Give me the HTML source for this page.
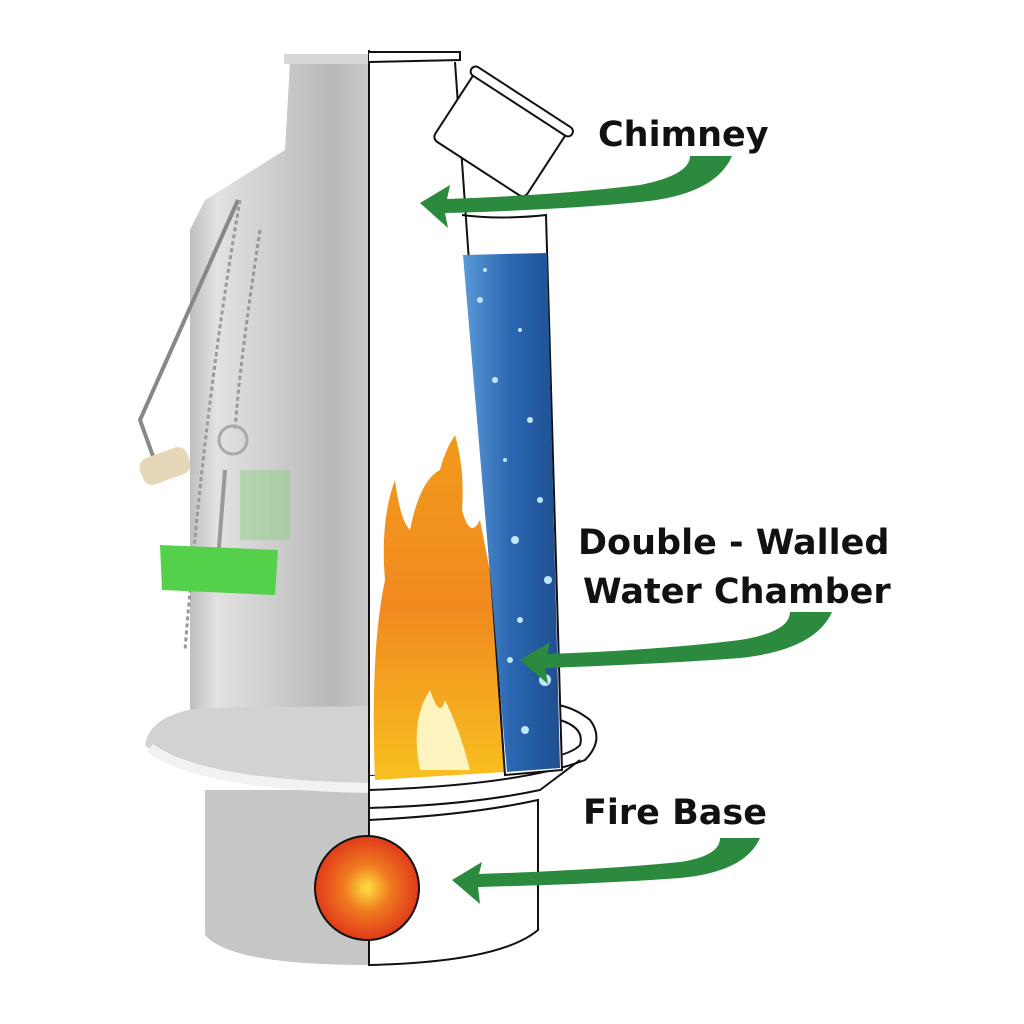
<!DOCTYPE html>
<html><head><meta charset="utf-8"><style>
html,body{margin:0;padding:0;background:#fff;}
svg{display:block}
text{font-family:"DejaVu Sans","Liberation Sans",sans-serif;font-weight:bold;fill:#111;}
</style></head><body>
<svg width="1024" height="1024" viewBox="0 0 1024 1024" xmlns="http://www.w3.org/2000/svg">
<defs>
<linearGradient id="metal" x1="0" x2="1" y1="0" y2="0">
<stop offset="0" stop-color="#bfbfbf"/><stop offset="0.15" stop-color="#e2e2e2"/><stop offset="0.45" stop-color="#cfcfcf"/><stop offset="0.8" stop-color="#b8b8b8"/><stop offset="1" stop-color="#c8c8c8"/>
</linearGradient>
<linearGradient id="water" x1="0" x2="1"><stop offset="0" stop-color="#5a9ad8"/><stop offset="0.5" stop-color="#2a66b0"/><stop offset="1" stop-color="#1f4f8f"/></linearGradient>
<linearGradient id="fire" x1="0" y1="0" x2="0" y2="1"><stop offset="0" stop-color="#f39a1a"/><stop offset="0.5" stop-color="#f08a20"/><stop offset="1" stop-color="#f8c020"/></linearGradient>
<radialGradient id="ball" cx="0.5" cy="0.5" r="0.5"><stop offset="0" stop-color="#ffe040"/><stop offset="0.45" stop-color="#f07a20"/><stop offset="1" stop-color="#e03a1a"/></radialGradient>
</defs>
<!-- kettle metal body -->
<path d="M290,62 L368,62 L368,760 L190,760 L190,230 L205,200 L285,150 Z" fill="url(#metal)"/>
<rect x="284" y="54" width="86" height="10" fill="#d8d8d8"/>
<!-- base lower cylinder -->
<path d="M205,790 L205,935 Q230,965 369,965 L369,790 Z" fill="#c6c6c6"/>
<path d="M369,820 L369,965 Q500,962 538,930 L538,800 Q470,815 369,820 Z" fill="#fff" stroke="#111" stroke-width="2"/>
<!-- tray -->
<path d="M145,745 Q150,715 200,708 L369,706 L369,790 Q190,790 145,745 Z" fill="#d2d2d2"/>
<path d="M150,748 Q200,785 369,788" fill="none" stroke="#f2f2f2" stroke-width="10"/>
<path d="M369,790 Q520,785 585,760 Q605,740 590,720 Q575,708 558,705 L560,720 Q585,728 580,745 Q560,768 369,775 Z" fill="#fff" stroke="#111" stroke-width="2"/>
<path d="M369,808 Q470,805 540,790 L580,760" fill="none" stroke="#111" stroke-width="2"/>
<!-- white cutaway -->
<path d="M369,50 L460,50 L460,58 L455,62 L505,772 L369,775 Z" fill="#fff"/>
<line x1="369" y1="50" x2="369" y2="965" stroke="#111" stroke-width="2"/>
<path d="M369,52 L460,52 L460,60 L369,62" fill="#fff" stroke="#111" stroke-width="2"/>
<!-- flames -->
<path d="M375,780 Q370,650 385,580 Q380,520 395,480 Q400,520 410,530 Q420,480 440,470 Q445,450 455,435 Q465,470 462,510 Q470,540 480,520 Q488,560 495,600 L505,772 Z" fill="url(#fire)"/>
<path d="M420,770 Q410,720 430,690 Q440,720 445,700 Q460,730 470,770 Z" fill="#fff4c0"/>
<!-- tube -->
<path d="M455,62 L505,775 L562,770 L546,215 Q500,220 462,215" fill="#fff" stroke="#111" stroke-width="2"/>
<path d="M463,255 L547,253 L560,768 L507,772 Z" fill="url(#water)"/>
<g fill="#bfe6ff">
<circle cx="480" cy="300" r="3"/><circle cx="520" cy="330" r="2"/><circle cx="495" cy="380" r="3"/><circle cx="530" cy="420" r="3"/><circle cx="505" cy="460" r="2"/><circle cx="540" cy="500" r="3"/><circle cx="515" cy="540" r="4"/><circle cx="548" cy="580" r="4"/><circle cx="520" cy="620" r="3"/><circle cx="545" cy="680" r="6"/><circle cx="525" cy="730" r="4"/><circle cx="510" cy="660" r="3"/><circle cx="485" cy="270" r="2"/>
</g>
<!-- cup -->
<g transform="rotate(33 500 135)">
<rect x="445" y="95" width="110" height="80" rx="6" fill="#fff" stroke="#111" stroke-width="2"/>
<rect x="440" y="90" width="120" height="10" rx="5" fill="#fff" stroke="#111" stroke-width="2"/>
</g>
<!-- handle and chain -->
<path d="M238,200 L140,420 L158,470" fill="none" stroke="#888" stroke-width="4"/>
<rect x="140" y="452" width="50" height="28" rx="10" fill="#e5d7b8" transform="rotate(-20 165 466)"/>
<path d="M240,200 Q205,400 185,650" fill="none" stroke="#999" stroke-width="3" stroke-dasharray="4 3"/>
<path d="M260,230 Q240,360 235,430" fill="none" stroke="#999" stroke-width="3" stroke-dasharray="4 3"/>
<circle cx="233" cy="440" r="14" fill="none" stroke="#aaa" stroke-width="3"/>
<path d="M225,470 L218,560" stroke="#999" stroke-width="4"/>
<path d="M160,545 L278,550 L275,595 L162,590 Z" fill="#55d04a"/>
<rect x="240" y="470" width="50" height="70" fill="#7ecf70" opacity="0.4"/>
<!-- arrows -->
<path d="M690,156 L732,156 Q715,195 640,202 Q560,210 445,213 L448,228 L420,203 L450,185 L447,199 Q560,195 640,185 Q690,175 690,156 Z" fill="#2b8a3e"/>
<path d="M790,612 L832,612 Q815,650 740,658 Q660,664 545,668 L548,684 L520,660 L550,642 L547,654 Q660,650 740,640 Q790,632 790,612 Z" fill="#2b8a3e"/>
<path d="M720,838 L760,838 Q745,872 680,878 Q600,884 478,887 L480,904 L452,880 L482,862 L479,874 Q600,870 680,862 Q720,856 720,838 Z" fill="#2b8a3e"/>
<!-- labels -->
<text x="598" y="146" font-size="35">Chimney</text>
<text x="578" y="554" font-size="35">Double - Walled</text>
<text x="583" y="603" font-size="35">Water Chamber</text>
<text x="583" y="824" font-size="35">Fire Base</text>
<!-- ball -->
<circle cx="367" cy="888" r="52" fill="url(#ball)" stroke="#111" stroke-width="2"/>
</svg>
</body></html>
